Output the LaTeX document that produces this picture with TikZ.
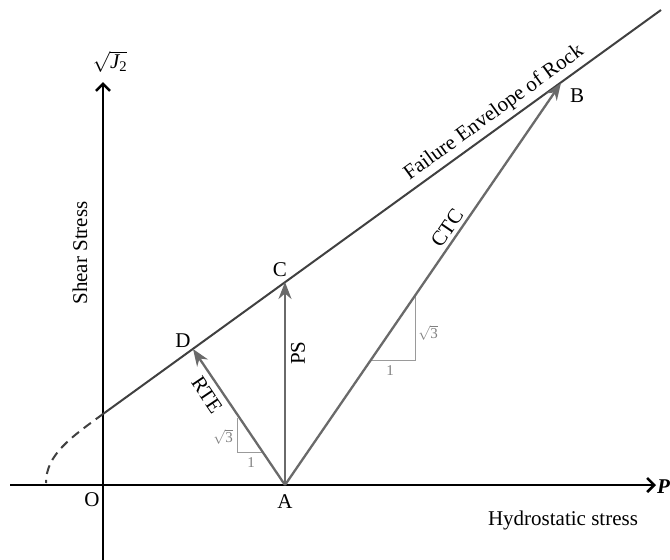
\documentclass[tikz,border=0pt]{standalone}
\usepackage{fontspec}
\usepackage{amsmath}
\setmainfont{Liberation Serif}
\usetikzlibrary{arrows.meta}
\definecolor{pathgray}{HTML}{6A6A6A}
\definecolor{envgray}{HTML}{404040}
\definecolor{trigray}{HTML}{9A9A9A}
\begin{document}
\begin{tikzpicture}[x=1pt,y=-1pt,
  axis/.style={line width=2.8pt,draw=black,-{Straight Barb[length=7pt,width=14pt,line width=2.6pt]}},
  env/.style={line width=2pt,draw=envgray},
  stresspath/.style={line width=2.3pt,draw=pathgray,-{Stealth[length=17pt,width=13pt,fill=pathgray]}},
  tri/.style={line width=1pt,draw=trigray},
  lbl/.style={font=\fontsize{21}{24}\selectfont,inner sep=0pt},
  smalllbl/.style={font=\fontsize{15}{17}\selectfont,text=gray,inner sep=0pt}
]
\useasboundingbox (0,0) rectangle (670,560);
% key points
\coordinate (xs) at (10,485);
\coordinate (xe) at (656,485);
\coordinate (ys) at (103,560);
\coordinate (ye) at (103,82);
\coordinate (E0) at (103,414);
\coordinate (E1) at (661,10);
\coordinate (A) at (285,485);
\coordinate (C) at (285,282);
\coordinate (D) at (193,349);
\coordinate (B) at (561,83);
\coordinate (dashend) at (46,483);
% axes
\draw[axis] (xs) -- (xe);
\draw[axis] (ys) -- (ye);
% failure envelope
\draw[env] (E0) -- (E1);
\draw[env,dash pattern=on 9pt off 6pt] (E0) .. controls (70,438) and (46,455) .. (dashend);
% slope triangles
\coordinate (t1a) at (237,418);
\coordinate (t1b) at (237,452);
\coordinate (t1c) at (262,452);
\draw[tri] (t1a) -- (t1b) -- (t1c);
\coordinate (t2a) at (415,296);
\coordinate (t2b) at (415,360);
\coordinate (t2c) at (371,360);
\draw[tri] (t2a) -- (t2b) -- (t2c);
% stress paths
\draw[stresspath] (A) -- (C);
\draw[stresspath] (A) -- (D);
\draw[stresspath] (A) -- (B);
% labels
\node[lbl] (Olab) at (92,500) {O};
\node[lbl] (Alab) at (285,502) {A};
\node[lbl] (Clab) at (280,270) {C};
\node[lbl] (Dlab) at (183,341) {D};
\node[lbl] (Blab) at (577,96) {B};
\node[lbl,anchor=west] (Plab) at (657,487) {\textbf{\textit{P}}};
\node[lbl] (hs) at (563,520) {Hydrostatic stress};
\node[lbl,rotate=90] (ss) at (80,253) {Shear Stress};
\node[lbl] (j2) at (110,62) {$\sqrt{\textit{J}_{\text{2}}}$};
\node[lbl,rotate=90] (ps) at (298,353) {PS};
\node[lbl,rotate=-56] (rte) at (207,395) {RTE};
\node[lbl,rotate=55.6] (ctc) at (447,228) {CTC};
\node[lbl,rotate=36] (fe) at (494,113) {Failure Envelope of Rock};
\node[smalllbl] (r3a) at (223,437) {$\sqrt{\text{3}}$};
\node[smalllbl] (r1a) at (251,463) {1};
\node[smalllbl] (r3b) at (428,333) {$\sqrt{\text{3}}$};
\node[smalllbl] (r1b) at (390,371) {1};
\end{tikzpicture}
\end{document}
